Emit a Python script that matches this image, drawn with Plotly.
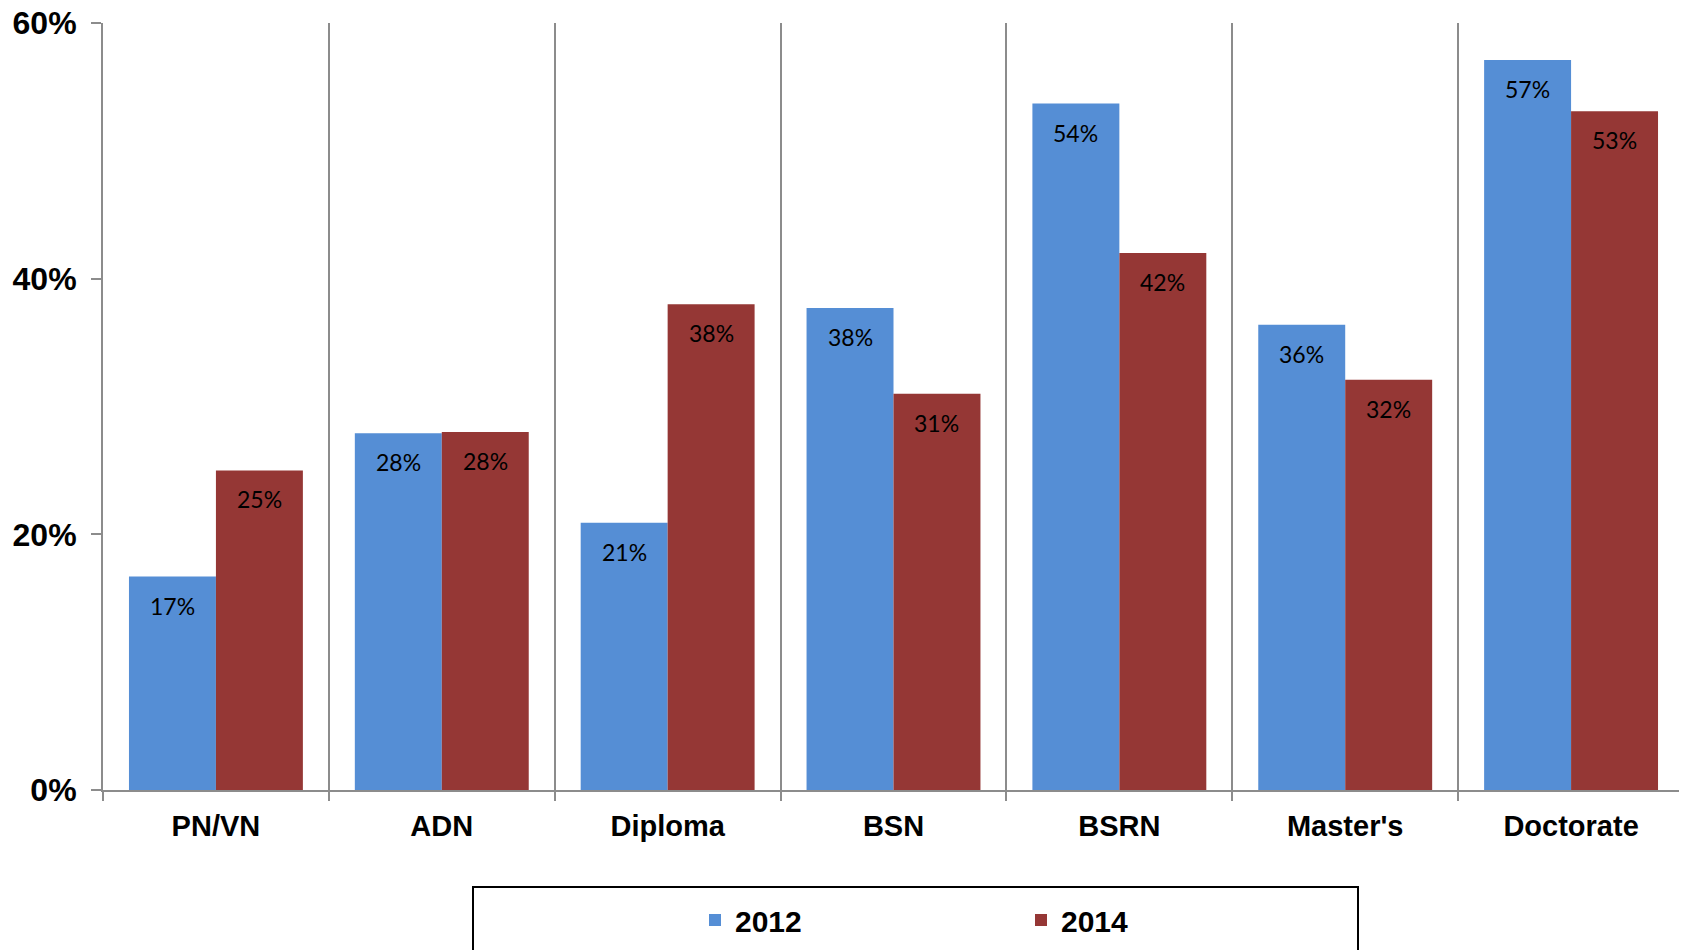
import plotly.graph_objects as go

categories = ["PN/VN", "ADN", "Diploma", "BSN", "BSRN", "Master's", "Doctorate"]
series_names = ["2012", "2014"]
values_2012 = [16.7, 27.9, 20.9, 37.7, 53.7, 36.4, 57.1]
values_2014 = [25.0, 28.0, 38.0, 31.0, 42.0, 32.1, 53.1]
colors = ["#558ED5", "#953735"]
y_ticks = [0, 20, 40, 60]

W, H = 1687, 950
OFF = 8  # default page body margin
# plot area in screen pixels
SX0, SX1, SY0, SY1 = 103, 1684, 23, 790
L, T = SX0 - OFF, SY0 - OFF
pw, ph = SX1 - SX0, SY1 - SY0
R, B = W - L - pw, H - T - ph


def px_to_paper_x(p):
    return (p - SX0) / pw


def px_to_paper_y(q):
    return (SY1 - q) / ph


fig = go.Figure()
for name, vals, col in zip(series_names, [values_2012, values_2014], colors):
    fig.add_trace(go.Bar(x=categories, y=vals, name=name, marker=dict(color=col, line=dict(width=0))))

annotations = []
cat_px = pw / len(categories)
bargap = 0.23
bar_px = cat_px * (1 - bargap) / 2
for i, vals in enumerate([values_2012, values_2014]):
    shift = (-0.5 if i == 0 else 0.5) * bar_px
    for c, v in zip(categories, vals):
        annotations.append(dict(
            x=c, y=v, xref="x", yref="y", text=f"{round(v):.0f}%", showarrow=False,
            xshift=shift, yshift=-29, yanchor="middle", xanchor="center",
            font=dict(family="Lato, Open Sans, sans-serif", size=23, color="#000000")))

fig.update_layout(
    width=W, height=H,
    margin=dict(l=L, r=R, t=T, b=B, autoexpand=False),
    plot_bgcolor="white", paper_bgcolor="white",
    barmode="group", bargap=bargap, bargroupgap=0,
    showlegend=True,
    legend=dict(orientation="h", x=px_to_paper_x(695), xanchor="left",
                y=px_to_paper_y(920), yanchor="middle",
                entrywidth=281, entrywidthmode="pixels",
                font=dict(family="Liberation Sans, Arial, sans-serif", size=30, color="#000000", weight="bold"),
                bgcolor="rgba(0,0,0,0)", borderwidth=0),
    annotations=annotations,
    shapes=[dict(type="rect", xref="paper", yref="paper",
                 x0=px_to_paper_x(473), x1=px_to_paper_x(1358),
                 y0=px_to_paper_y(887), y1=px_to_paper_y(975),
                 line=dict(color="#000000", width=2), fillcolor="rgba(0,0,0,0)", layer="below")],
    font=dict(family="Liberation Sans, Arial, sans-serif", color="#000000"),
)

fig.update_xaxes(
    type="category", tickson="boundaries", automargin=False,
    showline=True, linecolor="#8C8C8C", linewidth=2,
    showgrid=True, gridcolor="#8C8C8C", gridwidth=1.5,
    ticks="outside", ticklen=9, tickcolor="#8C8C8C", tickwidth=1.5,
    tickfont=dict(family="Liberation Sans, Arial, sans-serif", size=29, color="#000000", weight="bold"),
    ticklabelstandoff=9,
)
fig.update_yaxes(
    range=[0, 60], tickvals=y_ticks, ticktext=[f"{t}%" for t in y_ticks], automargin=False,
    ticklabeloverflow="allow",
    showline=True, linecolor="#8C8C8C", linewidth=2,
    showgrid=False, zeroline=False,
    ticks="outside", ticklen=10, tickcolor="#8C8C8C", tickwidth=1.5,
    tickfont=dict(family="Liberation Sans, Arial, sans-serif", size=32, color="#000000", weight="bold"),
    ticklabelstandoff=8,
)

fig.write_html("out.html")
